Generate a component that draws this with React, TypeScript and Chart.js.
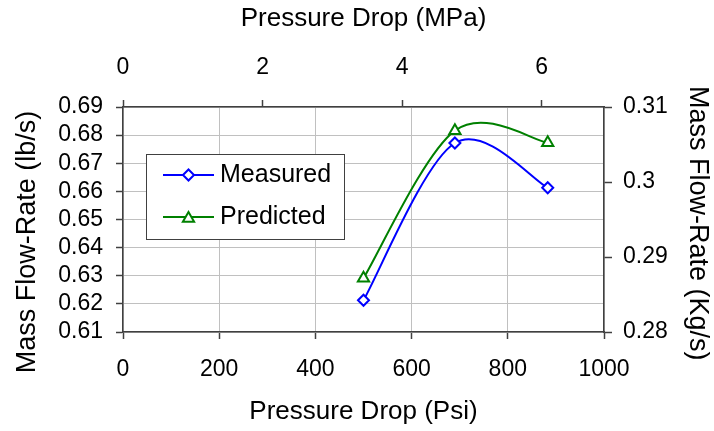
import React, { useEffect, useRef } from 'react';
import { Chart, registerables } from 'chart.js';

Chart.register(...registerables);

// ---- data ----
const pressurePsi = [500, 690, 883];
const measuredLbs = [0.6213, 0.6772, 0.6613];
const predictedLbs = [0.6291, 0.6816, 0.6773];
const seriesNames = ['Measured', 'Predicted'];

// ---- tick labels ----
const psiTicks = [0, 200, 400, 600, 800, 1000];
const mpaTicks = [0, 2, 4, 6];
const lbsTicks = [0.61, 0.62, 0.63, 0.64, 0.65, 0.66, 0.67, 0.68, 0.69];
const kgsTicks = [0.28, 0.29, 0.3, 0.31];

// unit conversion for the top axis
const PSI_TO_MPA = 0.00689476;

const FONT = "'Liberation Sans', Arial, sans-serif";
const AXIS = '#404040';
const GRID = '#c0c0c0';

const tickFont = { family: FONT, size: 23 };
const titleFont = { family: FONT, size: 26 };

function drawMarker(ctx: CanvasRenderingContext2D, style: string, cx: number, cy: number, r: number) {
  ctx.beginPath();
  if (style === 'rectRot') {
    ctx.moveTo(cx - r, cy);
    ctx.lineTo(cx, cy - r);
    ctx.lineTo(cx + r, cy);
    ctx.lineTo(cx, cy + r);
  } else {
    ctx.moveTo(cx, cy - r);
    ctx.lineTo(cx + r * Math.sin((2 * Math.PI) / 3), cy - r * Math.cos((2 * Math.PI) / 3));
    ctx.lineTo(cx + r * Math.sin((4 * Math.PI) / 3), cy - r * Math.cos((4 * Math.PI) / 3));
  }
  ctx.closePath();
  ctx.fill();
  ctx.stroke();
}

// Excel-style smoothed line: Bezier control points from neighbouring points
const excelSmoothing = {
  id: 'excelSmoothing',
  beforeDatasetsDraw(chart: any) {
    chart.data.datasets.forEach((_ds: any, di: number) => {
      const meta = chart.getDatasetMeta(di);
      const pts = meta.data;
      const n = pts.length;
      const dist = (a: any, b: any) => Math.hypot(b.x - a.x, b.y - a.y);
      for (let i = 0; i < n - 1; i++) {
        const p1 = pts[i];
        const p2 = pts[i + 1];
        const p0 = i > 0 ? pts[i - 1] : p1;
        const p3 = i + 2 < n ? pts[i + 2] : p2;
        const d12 = dist(p1, p2);
        const d02 = dist(p0, p2);
        const d13 = dist(p1, p3);
        const f0 = d02 / 6 < d12 / 2 ? 1 / 6 : d12 / (2 * d02);
        const f1 = d13 / 6 < d12 / 2 ? 1 / 6 : d12 / (2 * d13);
        p1.cp2x = p1.x + f0 * (p2.x - p0.x);
        p1.cp2y = p1.y + f0 * (p2.y - p0.y);
        p2.cp1x = p2.x - f1 * (p3.x - p1.x);
        p2.cp1y = p2.y - f1 * (p3.y - p1.y);
      }
      if (n) {
        pts[0].cp1x = pts[0].x;
        pts[0].cp1y = pts[0].y;
        pts[n - 1].cp2x = pts[n - 1].x;
        pts[n - 1].cp2y = pts[n - 1].y;
      }
      if (meta.dataset) meta.dataset._pointsUpdated = true;
    });
  },
};

const insideLegend = {
  id: 'insideLegend',
  afterDraw(chart: any) {
    const { ctx, chartArea } = chart;
    const x0 = Math.round(chartArea.left + 23);
    const y0 = Math.round(chartArea.top + 47);
    const w = 198;
    const h = 85;
    ctx.save();
    ctx.fillStyle = '#ffffff';
    ctx.fillRect(x0, y0, w, h);
    ctx.strokeStyle = AXIS;
    ctx.lineWidth = 1;
    ctx.strokeRect(x0 + 0.5, y0 + 0.5, w, h);
    chart.data.datasets.forEach((ds: any, i: number) => {
      const cy = y0 + 21 + i * 42;
      ctx.strokeStyle = ds.borderColor;
      ctx.lineWidth = 2;
      ctx.beginPath();
      ctx.moveTo(x0 + 17, cy);
      ctx.lineTo(x0 + 68, cy);
      ctx.stroke();
      ctx.fillStyle = '#ffffff';
      ctx.lineWidth = 2;
      drawMarker(ctx, ds.pointStyle, x0 + 42.5, cy + (ds.pointStyle === 'triangle' ? 1.5 : 0), ds.pointRadius);
      ctx.fillStyle = '#000000';
      ctx.font = `25px ${FONT}`;
      ctx.textAlign = 'left';
      ctx.textBaseline = 'middle';
      ctx.fillText(ds.label, x0 + 74, cy);
    });
    ctx.restore();
  },
};

export default function App() {
  const canvasRef = useRef<HTMLCanvasElement | null>(null);

  useEffect(() => {
    if (!canvasRef.current) return;
    const chart = new Chart(canvasRef.current, {
      type: 'line',
      data: {
        datasets: [
          {
            label: seriesNames[0],
            data: pressurePsi.map((x, i) => ({ x, y: measuredLbs[i] })),
            borderColor: '#0000ff',
            borderWidth: 2,
            pointStyle: 'rectRot',
            pointRadius: 5.5,
            pointBorderWidth: 2,
            pointBackgroundColor: '#ffffff',
            pointBorderColor: '#0000ff',
            tension: 0.4,
            fill: false,
            xAxisID: 'x',
            yAxisID: 'y',
          },
          {
            label: seriesNames[1],
            data: pressurePsi.map((x, i) => ({ x, y: predictedLbs[i] })),
            borderColor: '#008000',
            borderWidth: 2,
            pointStyle: 'triangle',
            pointRadius: 6.5,
            pointBorderWidth: 2,
            pointBackgroundColor: '#ffffff',
            pointBorderColor: '#008000',
            tension: 0.4,
            fill: false,
            xAxisID: 'x',
            yAxisID: 'y',
          },
        ],
      },
      options: {
        animation: false,
        responsive: false,
        devicePixelRatio: 1,
        layout: { padding: 0 },
        plugins: {
          legend: { display: false },
          tooltip: { enabled: false },
          title: { display: false },
        },
        scales: {
          x: {
            type: 'linear',
            position: 'bottom',
            min: psiTicks[0],
            max: psiTicks[psiTicks.length - 1],
            afterBuildTicks: (s: any) => {
              s.ticks = psiTicks.map((v) => ({ value: v }));
            },
            afterFit: (s: any) => {
              s.height = 99;
            },
            ticks: {
              callback: (v: any) => String(v),
              font: tickFont,
              color: '#000000',
              padding: 17,
              maxRotation: 0,
              autoSkip: false,
            },
            grid: { color: GRID, lineWidth: 1, tickLength: 7, tickColor: AXIS, tickWidth: 1.5 },
            border: { display: true, color: AXIS, width: 1.5 },
            title: {
              display: true,
              text: 'Pressure Drop (Psi)',
              font: titleFont,
              color: '#000000',
              padding: { top: 0, bottom: 4 },
            },
          },
          x2: {
            type: 'linear',
            position: 'top',
            min: 0,
            max: psiTicks[psiTicks.length - 1] * PSI_TO_MPA,
            afterBuildTicks: (s: any) => {
              s.ticks = mpaTicks.map((v) => ({ value: v }));
            },
            afterFit: (s: any) => {
              s.height = 107;
            },
            ticks: {
              callback: (v: any) => String(v),
              font: tickFont,
              color: '#000000',
              padding: 19,
              maxRotation: 0,
              autoSkip: false,
            },
            grid: { drawOnChartArea: false, tickLength: 7, tickColor: AXIS, tickWidth: 1.5 },
            border: { display: true, color: AXIS, width: 1.5 },
            title: {
              display: true,
              text: 'Pressure Drop (MPa)',
              font: titleFont,
              color: '#000000',
              padding: { top: 3, bottom: 0 },
            },
          },
          y: {
            type: 'linear',
            position: 'left',
            min: lbsTicks[0],
            max: lbsTicks[lbsTicks.length - 1],
            afterBuildTicks: (s: any) => {
              s.ticks = lbsTicks.map((v) => ({ value: v }));
            },
            afterFit: (s: any) => {
              s.width = 123;
            },
            ticks: {
              callback: (v: any) => String(v),
              font: tickFont,
              color: '#000000',
              padding: 13,
              autoSkip: false,
            },
            grid: { color: GRID, lineWidth: 1, tickLength: 7, tickColor: AXIS, tickWidth: 1.5 },
            border: { display: true, color: AXIS, width: 1.5 },
            title: {
              display: true,
              text: 'Mass Flow-Rate (lb/s)      ',
              font: { family: FONT, size: 27 },
              color: '#000000',
              padding: { top: 11, bottom: 0 },
            },
          },
          y2: {
            type: 'linear',
            position: 'right',
            min: kgsTicks[0],
            max: kgsTicks[kgsTicks.length - 1],
            afterBuildTicks: (s: any) => {
              s.ticks = kgsTicks.map((v) => ({ value: v }));
            },
            afterFit: (s: any) => {
              s.width = 110;
            },
            ticks: {
              callback: (v: any) => String(v),
              font: tickFont,
              color: '#000000',
              padding: 11,
              autoSkip: false,
            },
            grid: { drawOnChartArea: false, tickLength: 8, tickColor: AXIS, tickWidth: 1.5 },
            border: { display: true, color: AXIS, width: 1.5 },
            title: {
              display: true,
              text: ' Mass Flow-Rate (Kg/s)',
              font: { family: FONT, size: 27 },
              color: '#000000',
              padding: { top: 0, bottom: 0 },
            },
          },
        },
      },
      plugins: [excelSmoothing, insideLegend],
    } as any);
    return () => chart.destroy();
  }, []);

  return (
    <div style={{ position: 'fixed', left: 0, top: 0, width: 714, height: 431, background: '#ffffff' }}>
      <canvas ref={canvasRef} width={714} height={431} style={{ display: 'block', width: 714, height: 431 }} />
    </div>
  );
}
